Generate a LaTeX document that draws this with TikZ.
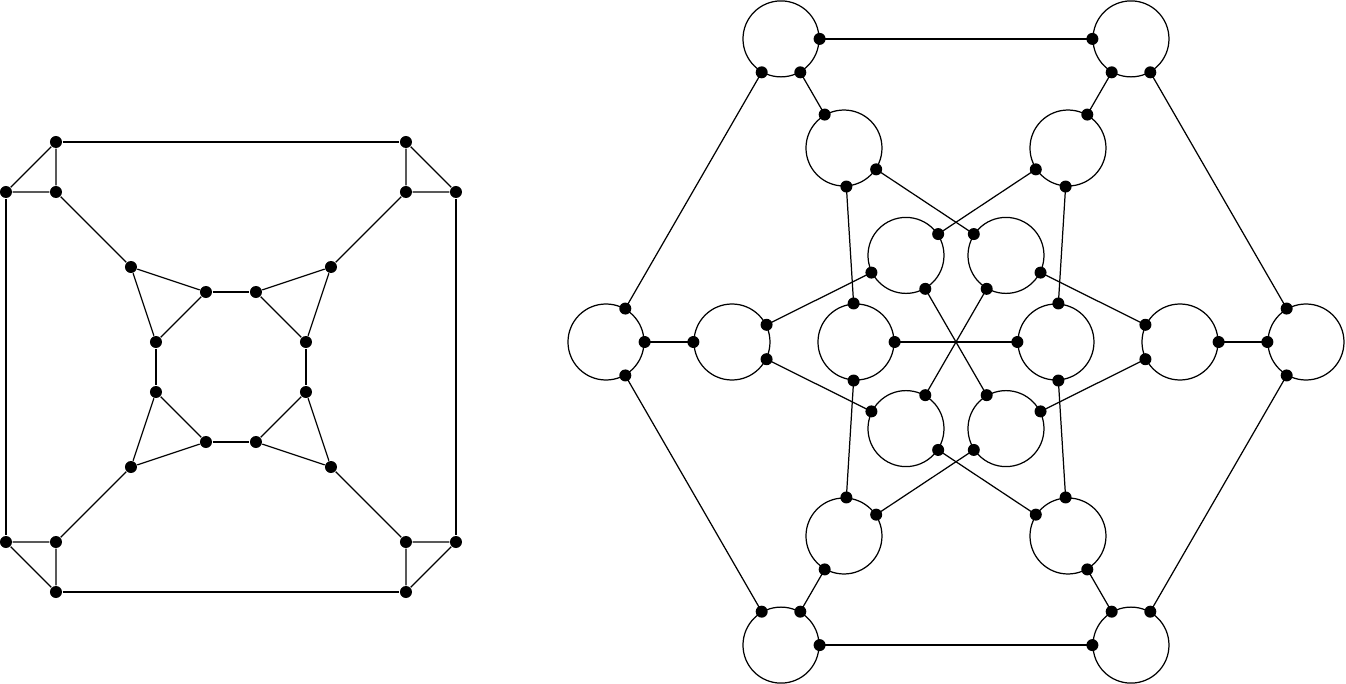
\documentclass[tikz,border=0pt]{standalone}
\usetikzlibrary{positioning}

\begin{document}
\begin{tikzpicture}[
        line width=0.7pt,
        dot/.style={circle, fill, inner sep=0pt, minimum size=0.24cm},
        ring/.style={circle, draw, inner sep=0pt, minimum size=1.52cm}
    ]
        \useasboundingbox (-19.12,-6.84) rectangle (7.8,6.84);

        % Left graph: corners and inner triangles
        \begin{scope}[shift={(-14.5,-0.5)}, x=0.5cm, y=0.5cm]
            \foreach \c/\sx/\sy in {1/-1/1, 2/1/1, 3/1/-1, 4/-1/-1} {
                \node (a\c) [dot] at ({7*\sx},{9*\sy}) {};
                \node (b\c) [dot] at ({9*\sx},{7*\sy}) {};
                \node (c\c) [dot] at ({7*\sx},{7*\sy}) {};
                \node (d\c) [dot] at ({4*\sx},{4*\sy}) {};
                \node (e\c) [dot] at ({1*\sx},{3*\sy}) {};
                \node (f\c) [dot] at ({3*\sx},{1*\sy}) {};
                \draw (a\c) -- (b\c) -- (c\c) -- (a\c);
                \draw (c\c) -- (d\c);
                \draw (d\c) -- (e\c) -- (f\c) -- (d\c);
            }
            \draw (a1) -- (a2);
            \draw (a4) -- (a3);
            \draw (b1) -- (b4);
            \draw (b2) -- (b3);
            \draw (e1) -- (e2);
            \draw (e4) -- (e3);
            \draw (f1) -- (f4);
            \draw (f2) -- (f3);
        \end{scope}

        % Right graph: three rings of circles
        \foreach \k in {0,...,5} {
            \node (o\k) [ring] at (60*\k:7) {};
            \node (m\k) [ring] at (60*\k:4.48) {};
            \node (i\k) [ring] at (60*\k:2) {};
        }

        % Links with dots on the circles
        \foreach \k [evaluate=\k as \n using {int(mod(\k+1,6))},
                     evaluate=\k as \p using {int(mod(\k+5,6))}] in {0,...,5} {
            \draw (o\k) -- node[dot, pos=0] {} node[dot, pos=1] {} (o\n);
            \draw (o\k) -- node[dot, pos=0] {} node[dot, pos=1] {} (m\k);
            \draw (m\k) -- node[dot, pos=0] {} node[dot, pos=1] {} (i\n);
            \draw (m\k) -- node[dot, pos=0] {} node[dot, pos=1] {} (i\p);
        }
        \foreach \k [evaluate=\k as \q using {int(\k+3)}] in {0,1,2}
            \draw (i\k) -- node[dot, pos=0] {} node[dot, pos=1] {} (i\q);
    \end{tikzpicture}
\end{document}
